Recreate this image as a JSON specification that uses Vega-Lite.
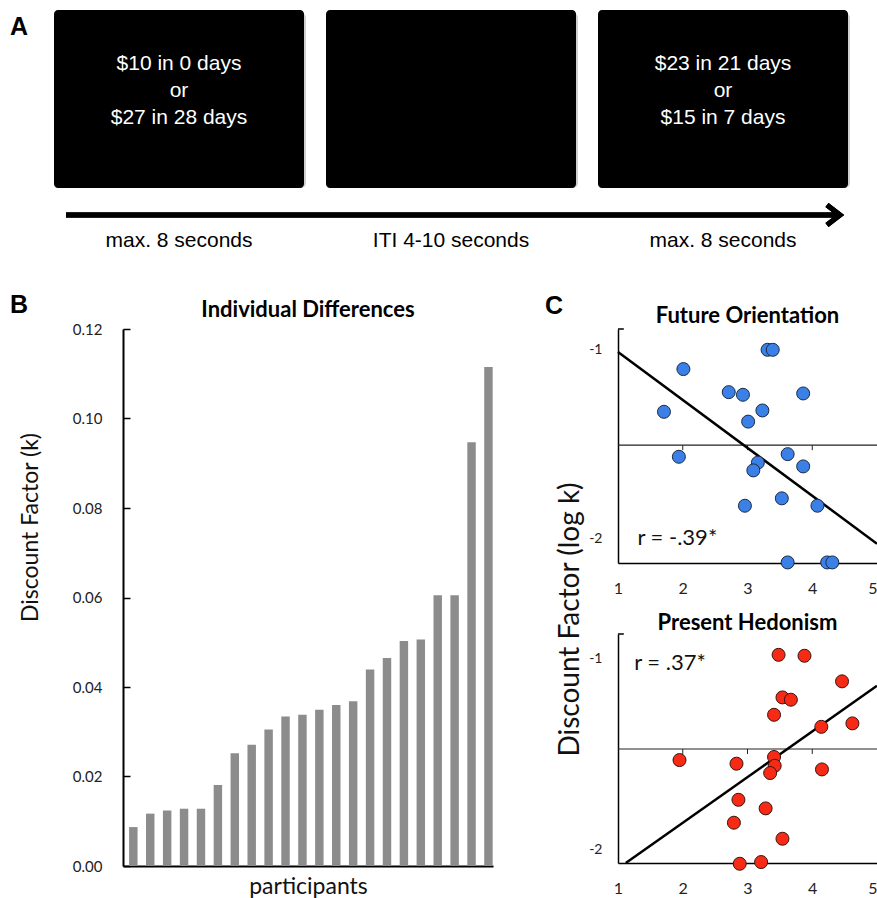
{
  "$schema": "https://vega.github.io/schema/vega-lite/v6.json",
  "padding": {"left": 10, "top": 0, "right": 0, "bottom": 0},
  "background": "white",
  "config": {
    "view": {"stroke": null},
    "font": "Lato",
    "axis": {"grid": false, "domainColor": "black", "labelColor": "#222", "titleColor": "#111", "labelFont": "Lato", "titleFont": "Lato", "titleFontWeight": "normal"},
    "title": {"color": "black"}
  },
  "spacing": 40,
  "vconcat": [
    {
      "width": 754,
      "height": 250,
      "title": {"text": "A", "anchor": "start", "frame": "group", "offset": -40, "dx": -113, "fontSize": 25, "fontWeight": "bold", "font": "Liberation Sans"},
      "data": {"values": [
        {"slot": "1", "screen": "$10 in 0 days\nor\n$27 in 28 days", "duration": "max. 8 seconds"},
        {"slot": "2", "screen": "", "duration": "ITI 4-10 seconds"},
        {"slot": "3", "screen": "$23 in 21 days\nor\n$15 in 7 days", "duration": "max. 8 seconds"}
      ]},
      "layer": [
        {
          "mark": {"type": "rect", "color": "#b0b0b0", "opacity": 0.6, "cornerRadius": 5, "xOffset": 2, "yOffset": 3},
          "encoding": {
            "x": {"field": "slot", "type": "nominal", "scale": {"range": [-69, 725], "paddingInner": 0.0809, "paddingOuter": 0}, "axis": null},
            "y": {"datum": 4, "type": "quantitative", "scale": {"domain": [0, 100], "reverse": true, "nice": false, "zero": false}, "axis": null},
            "y2": {"datum": 75.2}
          }
        },
        {
          "mark": {"type": "rect", "color": "black", "cornerRadius": 4},
          "encoding": {
            "x": {"field": "slot", "type": "nominal", "axis": null},
            "y": {"datum": 4, "type": "quantitative", "axis": null},
            "y2": {"datum": 75.2}
          }
        },
        {
          "mark": {"type": "text", "color": "white", "fontSize": 21, "font": "Liberation Sans, Arial", "lineBreak": "\n", "lineHeight": 27, "baseline": "middle", "align": "center"},
          "encoding": {
            "x": {"field": "slot", "type": "nominal", "axis": null},
            "y": {"datum": 25.6, "type": "quantitative", "axis": null},
            "text": {"field": "screen"}
          }
        },
        {
          "mark": {"type": "rule", "color": "black", "strokeWidth": 5},
          "encoding": {
            "x": {"datum": "1", "type": "nominal", "bandPosition": 0.048, "axis": null},
            "x2": {"datum": "3", "bandPosition": 0.96},
            "y": {"datum": 86, "type": "quantitative", "axis": null}
          }
        },
        {
          "mark": {"type": "point", "shape": "M -1.3 -1 L 0 0 L -1.3 1", "filled": false, "stroke": "black", "strokeWidth": 5, "size": 400, "opacity": 1},
          "encoding": {
            "x": {"datum": "3", "type": "nominal", "bandPosition": 0.968, "axis": null},
            "y": {"datum": 86, "type": "quantitative", "axis": null}
          }
        },
        {
          "mark": {"type": "text", "color": "black", "fontSize": 21, "font": "Liberation Sans, Arial", "baseline": "middle", "align": "center"},
          "encoding": {
            "x": {"field": "slot", "type": "nominal", "axis": null},
            "y": {"datum": 96.4, "type": "quantitative", "axis": null},
            "text": {"field": "duration"}
          }
        }
      ]
    },
    {
      "spacing": 52,
      "hconcat": [
        {
          "title": {"text": "B", "anchor": "start", "frame": "bounds", "offset": -19, "dx": -9, "fontSize": 25, "fontWeight": "bold", "font": "Liberation Sans"},
          "vconcat": [
            {
              "title": {"text": "Individual Differences", "fontSize": 22, "fontWeight": "bold", "font": "Lato", "offset": 0.5, "anchor": "middle"},
              "width": 370,
              "height": 537,
              "data": {"values": [
                {"participant": 1, "k": 0.0087},
                {"participant": 2, "k": 0.0117},
                {"participant": 3, "k": 0.0124},
                {"participant": 4, "k": 0.0128},
                {"participant": 5, "k": 0.0128},
                {"participant": 6, "k": 0.0181},
                {"participant": 7, "k": 0.0252},
                {"participant": 8, "k": 0.0271},
                {"participant": 9, "k": 0.0305},
                {"participant": 10, "k": 0.0334},
                {"participant": 11, "k": 0.0338},
                {"participant": 12, "k": 0.0349},
                {"participant": 13, "k": 0.0360},
                {"participant": 14, "k": 0.0368},
                {"participant": 15, "k": 0.0439},
                {"participant": 16, "k": 0.0465},
                {"participant": 17, "k": 0.0503},
                {"participant": 18, "k": 0.0506},
                {"participant": 19, "k": 0.0605},
                {"participant": 20, "k": 0.0605},
                {"participant": 21, "k": 0.0947},
                {"participant": 22, "k": 0.1115}
              ]},
              "mark": {"type": "bar", "color": "#8c8c8c"},
              "encoding": {
                "x": {"field": "participant", "type": "ordinal", "sort": "ascending", "scale": {"paddingInner": 0.5, "paddingOuter": 0.19, "align": 0.95}, "axis": {"labels": false, "ticks": false, "domainWidth": 2, "title": "participants", "titleFontSize": 23, "titlePadding": 9}},
                "y": {"field": "k", "type": "quantitative", "scale": {"domain": [0, 0.12], "nice": false}, "axis": {"values": [0, 0.02, 0.04, 0.06, 0.08, 0.1, 0.12], "format": ".2f", "tickSize": -7, "tickWidth": 1.5, "tickColor": "black", "domainWidth": 2, "labelFontSize": 15, "labelPadding": 28, "title": "Discount Factor (k)", "titleFontSize": 23, "titleX": -81, "titleY": 198, "titleBaseline": "bottom", "titleAngle": 270}}
              }
            }
          ]
        },
        {
          "title": {"text": "C", "anchor": "start", "frame": "bounds", "offset": -14, "dx": -11, "fontSize": 25, "fontWeight": "bold", "font": "Liberation Sans"},
          "bounds": "flush",
          "spacing": 71,
          "vconcat": [
            {
              "title": {"text": "Future Orientation", "fontSize": 22, "fontWeight": "bold", "font": "Lato", "offset": 0.5, "anchor": "middle"},
              "width": 259,
              "height": 234,
              "layer": [
                {
                  "data": {"values": [{"tick": 2}, {"tick": 3}, {"tick": 4}]},
                  "mark": {"type": "rule", "color": "#222", "strokeWidth": 1},
                  "encoding": {
                    "x": {"field": "tick", "type": "quantitative", "scale": {"domain": [1, 5], "nice": false, "zero": false}},
                    "y": {"datum": -1.508, "type": "quantitative", "scale": {"domain": [-2.132, -0.894], "nice": false, "zero": false}},
                    "y2": {"datum": -1.535}
                  }
                },
                {
                  "data": {"values": [{"from": 1, "to": 5, "mean": -1.508}]},
                  "mark": {"type": "rule", "color": "#222", "strokeWidth": 1.2},
                  "encoding": {
                    "x": {"field": "from", "type": "quantitative"},
                    "x2": {"field": "to"},
                    "y": {"field": "mean", "type": "quantitative"}
                  }
                },
                {
                  "data": {"values": [{"from": 1, "to": 1.09, "top": -0.894}]},
                  "mark": {"type": "rule", "color": "black", "strokeWidth": 1.5},
                  "encoding": {
                    "x": {"field": "from", "type": "quantitative"},
                    "x2": {"field": "to"},
                    "y": {"field": "top", "type": "quantitative"}
                  }
                },
                {
                  "data": {"values": [{"fo": 1, "logk": -1.016}, {"fo": 5, "logk": -2.03}]},
                  "mark": {"type": "line", "color": "black", "strokeWidth": 2.5},
                  "encoding": {
                    "x": {"field": "fo", "type": "quantitative"},
                    "y": {"field": "logk", "type": "quantitative"}
                  }
                },
                {
                  "data": {"values": [
                    {"fo": 1.71, "logk": -1.332}, {"fo": 2.01, "logk": -1.106}, {"fo": 2.71, "logk": -1.228}, {"fo": 2.93, "logk": -1.242},
                    {"fo": 3.23, "logk": -1.325}, {"fo": 3.01, "logk": -1.384}, {"fo": 3.31, "logk": -1.004}, {"fo": 3.39, "logk": -1.004},
                    {"fo": 3.86, "logk": -1.235}, {"fo": 1.94, "logk": -1.57}, {"fo": 3.16, "logk": -1.601}, {"fo": 3.09, "logk": -1.642},
                    {"fo": 3.62, "logk": -1.556}, {"fo": 3.86, "logk": -1.621}, {"fo": 2.96, "logk": -1.829}, {"fo": 3.53, "logk": -1.79},
                    {"fo": 4.08, "logk": -1.829}, {"fo": 3.62, "logk": -2.129}, {"fo": 4.23, "logk": -2.129}, {"fo": 4.31, "logk": -2.129}
                  ]},
                  "mark": {"type": "point", "shape": "circle", "filled": true, "size": 169, "fill": "#3a80e6", "stroke": "#1c2a44", "strokeWidth": 1, "opacity": 1},
                  "encoding": {
                    "x": {"field": "fo", "type": "quantitative", "axis": {"values": [1, 2, 3, 4, 5], "format": "d", "ticks": false, "tickSize": 0, "domainWidth": 1.5, "labelFontSize": 16, "labelPadding": 17, "labelAlign": {"expr": "datum.value == 5 ? 'right' : 'center'"}, "title": null}},
                    "y": {"field": "logk", "type": "quantitative", "axis": {"values": [-1, -2], "labelExpr": "'-' + toString(abs(datum.value))", "ticks": false, "tickSize": 0, "domainWidth": 1.5, "labelFontSize": 14, "labelPadding": 16, "title": "Discount Factor (log k)", "titleFontSize": 28, "titleX": -34, "titleY": 290, "titleBaseline": "bottom", "titleAngle": 270}}
                  }
                },
                {
                  "data": {"values": [{"fo": 1.3, "logk": -2.0, "label": "r = -.39*"}]},
                  "mark": {"type": "text", "fontSize": 22, "font": "Lato", "align": "left", "baseline": "middle", "color": "#111"},
                  "encoding": {
                    "x": {"field": "fo", "type": "quantitative"},
                    "y": {"field": "logk", "type": "quantitative"},
                    "text": {"field": "label"}
                  }
                }
              ]
            },
            {
              "title": {"text": "Present Hedonism", "fontSize": 22, "fontWeight": "bold", "font": "Lato", "offset": -1.5, "anchor": "middle"},
              "width": 259,
              "height": 229,
              "layer": [
                {
                  "data": {"values": [{"tick": 2}, {"tick": 3}, {"tick": 4}]},
                  "mark": {"type": "rule", "color": "#222", "strokeWidth": 1},
                  "encoding": {
                    "x": {"field": "tick", "type": "quantitative", "scale": {"domain": [1, 5], "nice": false, "zero": false}},
                    "y": {"datum": -1.476, "type": "quantitative", "scale": {"domain": [-2.073, -0.874], "nice": false, "zero": false}},
                    "y2": {"datum": -1.502}
                  }
                },
                {
                  "data": {"values": [{"from": 1, "to": 5, "mean": -1.476}]},
                  "mark": {"type": "rule", "color": "#222", "strokeWidth": 1.2},
                  "encoding": {
                    "x": {"field": "from", "type": "quantitative"},
                    "x2": {"field": "to"},
                    "y": {"field": "mean", "type": "quantitative"}
                  }
                },
                {
                  "data": {"values": [{"from": 1, "to": 1.09, "top": -0.874}]},
                  "mark": {"type": "rule", "color": "black", "strokeWidth": 1.5},
                  "encoding": {
                    "x": {"field": "from", "type": "quantitative"},
                    "x2": {"field": "to"},
                    "y": {"field": "top", "type": "quantitative"}
                  }
                },
                {
                  "data": {"values": [{"ph": 1.12, "logk": -2.073}, {"ph": 5, "logk": -1.145}]},
                  "mark": {"type": "line", "color": "black", "strokeWidth": 2.5},
                  "encoding": {
                    "x": {"field": "ph", "type": "quantitative"},
                    "y": {"field": "logk", "type": "quantitative"}
                  }
                },
                {
                  "data": {"values": [
                    {"ph": 3.48, "logk": -0.983}, {"ph": 3.88, "logk": -0.988}, {"ph": 4.46, "logk": -1.122}, {"ph": 3.54, "logk": -1.206},
                    {"ph": 3.67, "logk": -1.218}, {"ph": 3.41, "logk": -1.297}, {"ph": 4.14, "logk": -1.36}, {"ph": 4.62, "logk": -1.342},
                    {"ph": 1.95, "logk": -1.534}, {"ph": 3.41, "logk": -1.518}, {"ph": 3.42, "logk": -1.564}, {"ph": 3.35, "logk": -1.602},
                    {"ph": 2.83, "logk": -1.553}, {"ph": 4.15, "logk": -1.583}, {"ph": 2.86, "logk": -1.742}, {"ph": 3.28, "logk": -1.787},
                    {"ph": 2.79, "logk": -1.862}, {"ph": 3.54, "logk": -1.946}, {"ph": 2.88, "logk": -2.077}, {"ph": 3.21, "logk": -2.068}
                  ]},
                  "mark": {"type": "point", "shape": "circle", "filled": true, "size": 169, "fill": "#f72a16", "stroke": "#3a1410", "strokeWidth": 1, "opacity": 1},
                  "encoding": {
                    "x": {"field": "ph", "type": "quantitative", "axis": {"values": [1, 2, 3, 4, 5], "format": "d", "ticks": false, "tickSize": 0, "domainWidth": 1.5, "labelFontSize": 16, "labelPadding": 17, "labelAlign": {"expr": "datum.value == 5 ? 'right' : 'center'"}, "title": null}},
                    "y": {"field": "logk", "type": "quantitative", "axis": {"values": [-1, -2], "labelExpr": "'-' + toString(abs(datum.value))", "ticks": false, "tickSize": 0, "domainWidth": 1.5, "labelFontSize": 14, "labelPadding": 16, "title": null}}
                  }
                },
                {
                  "data": {"values": [{"ph": 1.25, "logk": -1.026, "label": "r = .37*"}]},
                  "mark": {"type": "text", "fontSize": 22, "font": "Lato", "align": "left", "baseline": "middle", "color": "#111"},
                  "encoding": {
                    "x": {"field": "ph", "type": "quantitative"},
                    "y": {"field": "logk", "type": "quantitative"},
                    "text": {"field": "label"}
                  }
                }
              ]
            }
          ]
        }
      ]
    }
  ]
}
